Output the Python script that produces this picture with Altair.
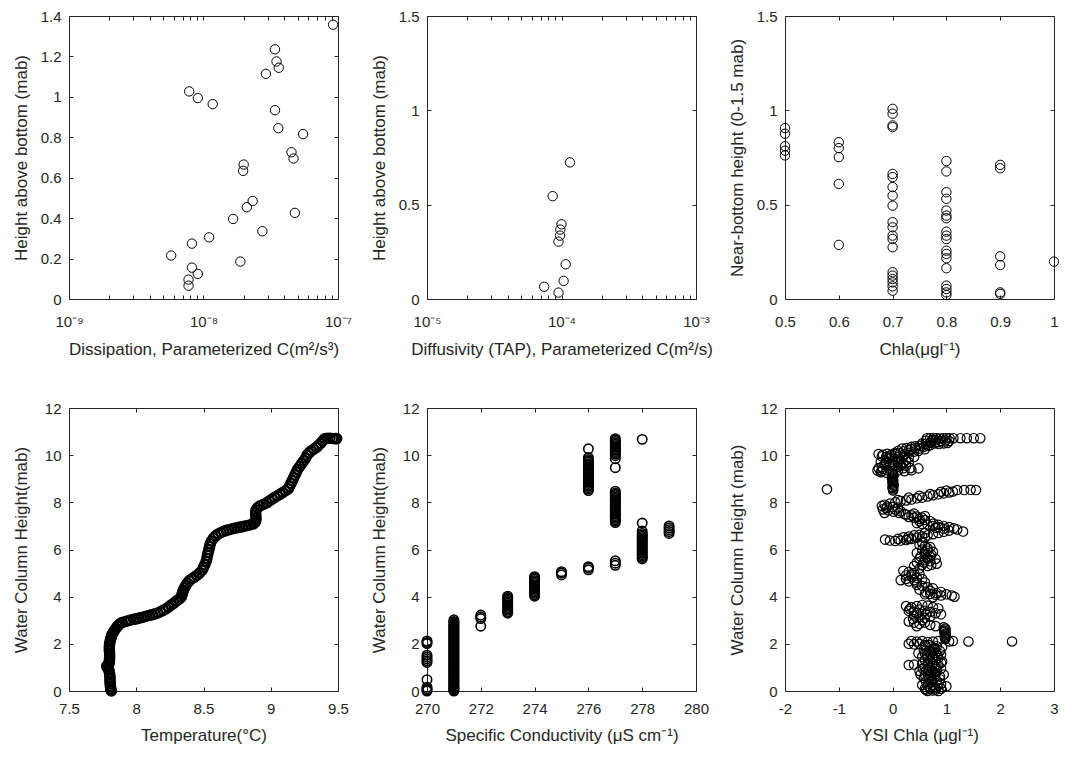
import altair as alt
import pandas as pd

FONT = "Liberation Sans"
INK = "#262626"
TICK = 4
W, H = 269, 283
SIZE = 88

# ---------------- Panel 1: dissipation ----------------
dissipation = [9.2e-8, 3.4e-8, 3.49e-8, 3.63e-8, 2.91e-8, 7.83e-9, 9.08e-9, 1.17e-8,
               3.4e-8, 3.6e-8, 5.5e-8, 4.51e-8, 4.67e-8, 1.99e-8, 1.97e-8, 2.32e-8,
               2.1e-8, 4.78e-8, 1.66e-8, 2.74e-8, 1.1e-8, 8.2e-9, 5.75e-9, 1.88e-8,
               8.2e-9, 9.08e-9, 7.74e-9, 7.74e-9]
dissipation_h = [1.357, 1.235, 1.175, 1.144, 1.114, 1.027, 0.994, 0.964,
                 0.934, 0.845, 0.816, 0.726, 0.695, 0.665, 0.634, 0.485,
                 0.454, 0.426, 0.396, 0.335, 0.305, 0.274, 0.215, 0.185,
                 0.155, 0.124, 0.096, 0.066]

# ---------------- Panel 2: diffusivity ----------------
diffusivity = [1.156e-4, 8.6e-5, 1.0e-4, 9.8e-5, 9.75e-5, 9.5e-5, 1.074e-4, 1.037e-4, 7.43e-5, 9.5e-5]
diffusivity_h = [0.724, 0.545, 0.396, 0.368, 0.336, 0.304, 0.184, 0.096, 0.065, 0.034]

# ---------------- Panel 3: Chla near bottom ----------------
chla_levels = [0.5, 0.6, 0.7, 0.8, 0.9, 1.0]
chla_heights = [
    [0.906, 0.876, 0.810, 0.786, 0.761],
    [0.831, 0.800, 0.752, 0.610, 0.287],
    [1.008, 0.982, 0.920, 0.911, 0.663, 0.646, 0.593, 0.548, 0.495, 0.407, 0.380,
     0.336, 0.318, 0.274, 0.142, 0.124, 0.106, 0.088, 0.067, 0.044],
    [0.731, 0.676, 0.566, 0.531, 0.469, 0.442, 0.428, 0.357, 0.336, 0.318, 0.256,
     0.239, 0.216, 0.163, 0.071, 0.053, 0.035, 0.021],
    [0.711, 0.693, 0.226, 0.180, 0.035, 0.027],
    [0.198],
]

# ---------------- Panel 4: temperature profile ----------------
temp_c = [7.815, 7.812, 7.810, 7.808, 7.806, 7.805, 7.805, 7.804, 7.803, 7.800, 7.795, 7.785, 7.780,
          7.790, 7.800, 7.800, 7.802, 7.802, 7.802, 7.800, 7.800, 7.800, 7.802, 7.805, 7.810,
          7.815, 7.820, 7.830, 7.840, 7.850, 7.860, 7.870, 7.880, 7.895,
          7.92, 7.94, 7.96, 7.98, 8.00, 8.02, 8.04, 8.06, 8.08, 8.10, 8.12, 8.14, 8.16, 8.18, 8.20, 8.22,
          8.24, 8.26, 8.28, 8.30, 8.32, 8.335, 8.34, 8.345, 8.35, 8.36,
          8.37, 8.38, 8.395, 8.41, 8.43, 8.45, 8.47, 8.49, 8.50, 8.51,
          8.52, 8.525, 8.53, 8.535, 8.54, 8.545, 8.55, 8.56, 8.575, 8.59,
          8.61, 8.63, 8.65, 8.67, 8.69, 8.71, 8.73, 8.75, 8.77, 8.79,
          8.81, 8.83, 8.85, 8.87, 8.885, 8.89, 8.89, 8.888, 8.888, 8.89,
          8.90, 8.92, 8.945, 8.97, 8.99, 9.01, 9.03, 9.05, 9.07, 9.09,
          9.11, 9.13, 9.14, 9.15, 9.16, 9.17, 9.18, 9.19, 9.20, 9.215,
          9.23, 9.245, 9.26, 9.27, 9.285, 9.30, 9.32, 9.34, 9.355, 9.37,
          9.385, 9.40, 9.42, 9.44, 9.46, 9.48, 9.49]
temp_h = [0.00, 0.05, 0.10, 0.20, 0.30, 0.40, 0.50, 0.60, 0.70, 0.80, 0.90, 1.00, 1.05,
          1.10, 1.20, 1.30, 1.40, 1.50, 1.60, 1.70, 1.80, 1.90, 2.00, 2.10, 2.20,
          2.30, 2.40, 2.50, 2.58, 2.66, 2.74, 2.80, 2.86, 2.90,
          2.95, 2.98, 3.01, 3.04, 3.06, 3.09, 3.12, 3.15, 3.18, 3.21, 3.24, 3.27, 3.31, 3.36, 3.42, 3.48,
          3.56, 3.65, 3.73, 3.82, 3.90, 3.98, 4.08, 4.18, 4.28, 4.38,
          4.48, 4.58, 4.68, 4.75, 4.82, 4.90, 5.00, 5.12, 5.24, 5.36,
          5.50, 5.62, 5.76, 5.88, 6.00, 6.12, 6.24, 6.36, 6.48, 6.58,
          6.66, 6.72, 6.77, 6.81, 6.84, 6.87, 6.90, 6.92, 6.95, 6.97,
          7.00, 7.02, 7.05, 7.09, 7.16, 7.26, 7.36, 7.46, 7.56, 7.66,
          7.76, 7.85, 7.91, 7.98, 8.06, 8.14, 8.21, 8.28, 8.35, 8.42,
          8.49, 8.57, 8.68, 8.80, 8.92, 9.04, 9.16, 9.28, 9.40, 9.52,
          9.64, 9.76, 9.88, 10.00, 10.10, 10.18, 10.26, 10.33, 10.42, 10.50,
          10.60, 10.69, 10.72, 10.72, 10.71, 10.70, 10.70]

# ---------------- Panel 5: specific conductivity ----------------
cond_levels = [270, 271, 272, 273, 274, 275, 276, 277, 278, 279]
cond_heights = [
    [2.12, 2.06, 2.01, 1.52, 1.44, 1.36, 1.28, 1.21, 0.48, 0.16, 0.10, 0.04, 0.0],
    [0.0, 0.04, 0.08, 0.12, 0.16, 0.2, 0.25, 0.3, 0.35, 0.4, 0.45, 0.5, 0.55, 0.6, 0.65, 0.7,
     0.75, 0.8, 0.85, 0.9, 0.95, 1.0, 1.05, 1.1, 1.15, 1.2, 1.25, 1.3, 1.35, 1.4, 1.45, 1.5,
     1.55, 1.6, 1.65, 1.7, 1.75, 1.8, 1.85, 1.9, 1.95, 2.0, 2.05, 2.1, 2.15, 2.2, 2.25, 2.3,
     2.35, 2.4, 2.45, 2.5, 2.55, 2.6, 2.65, 2.7, 2.75, 2.8, 2.85, 2.9, 2.95, 3.02],
    [2.75, 3.07, 3.14, 3.22],
    [3.3, 3.36, 3.42, 3.48, 3.54, 3.6, 3.66, 3.72, 3.78, 3.84, 3.9, 3.96, 4.02],
    [4.02, 4.08, 4.14, 4.2, 4.26, 4.32, 4.38, 4.44, 4.5, 4.56, 4.62, 4.68, 4.74, 4.8, 4.85],
    [4.92, 5.0, 5.06],
    [5.14, 5.22, 5.27, 8.5, 8.56, 8.62, 8.68, 8.74, 8.8, 8.86, 8.92, 8.98, 9.04, 9.1, 9.16,
     9.22, 9.28, 9.34, 9.4, 9.46, 9.52, 9.58, 9.64, 9.7, 9.76, 9.82, 9.9, 10.27],
    [5.33, 5.42, 5.52, 7.14, 7.2, 7.26, 7.32, 7.38, 7.44, 7.5, 7.56, 7.62, 7.68, 7.74, 7.8,
     7.86, 7.92, 7.98, 8.04, 8.1, 8.16, 8.22, 8.28, 8.34, 8.4, 8.47, 9.47, 9.85, 9.98, 10.04,
     10.1, 10.16, 10.22, 10.28, 10.34, 10.4, 10.46, 10.52, 10.58, 10.64, 10.7],
    [5.6, 5.66, 5.72, 5.78, 5.84, 5.9, 5.96, 6.02, 6.08, 6.14, 6.2, 6.26, 6.32, 6.38, 6.44,
     6.5, 6.56, 6.62, 6.68, 6.78, 7.12, 10.67],
    [6.68, 6.76, 6.84, 6.92, 7.0],
]

# ---------------- Panel 6: YSI Chla (chla, height) ----------------
ysi_upper = [
    (0.64, 10.72), (0.70, 10.72), (0.76, 10.73), (0.82, 10.72), (0.88, 10.71), (0.94, 10.72),
    (1.00, 10.72), (1.06, 10.72), (1.13, 10.72), (1.26, 10.72), (1.38, 10.72), (1.51, 10.72), (1.63, 10.72),
    (0.62, 10.62), (0.72, 10.60), (0.80, 10.63), (0.90, 10.60), (0.98, 10.62), (1.05, 10.60),
    (0.75, 10.65), (0.85, 10.55), (0.70, 10.42),
    (0.55, 10.50), (0.62, 10.48), (0.70, 10.52), (0.78, 10.50), (0.86, 10.47), (0.95, 10.50), (1.02, 10.52),
    (0.42, 10.38), (0.50, 10.40), (0.58, 10.36), (0.66, 10.40), (0.35, 10.35),
    (0.18, 10.28), (0.26, 10.30), (0.34, 10.26), (0.42, 10.30), (0.50, 10.28), (0.60, 10.25),
    (0.10, 10.18), (0.20, 10.16), (0.30, 10.20), (0.40, 10.15), (0.48, 10.18), (0.05, 10.10), (0.30, 10.10),
    (-0.26, 10.05), (-0.18, 10.02), (-0.10, 10.06), (-0.02, 10.03), (0.06, 10.05), (0.14, 10.08), (0.22, 10.05),
    (-0.20, 9.95), (-0.12, 9.92), (-0.04, 9.96), (0.10, 9.93), (0.20, 9.95), (0.30, 9.90), (0.40, 9.92),
    (-0.10, 9.85), (0.00, 9.82), (0.12, 9.85), (0.25, 9.80), (0.12, 9.78), (-0.06, 9.90),
    (-0.22, 9.70), (-0.12, 9.68), (0.00, 9.72), (0.10, 9.70), (0.20, 9.66), (0.30, 9.70),
    (-0.15, 9.60), (0.00, 9.62), (0.15, 9.62), (-0.20, 9.50), (0.10, 9.50), (0.25, 9.55),
    (-0.05, 9.55), (0.05, 9.58), (0.15, 9.55),
    (-0.26, 9.45), (-0.18, 9.42), (0.20, 9.45), (0.33, 9.45), (0.48, 9.44),
    (-0.28, 9.35), (-0.20, 9.32), (-0.10, 9.36), (0.00, 9.34), (0.10, 9.35), (0.22, 9.32), (0.35, 9.36),
    (-0.22, 9.28), (-0.12, 9.26), (0.00, 9.25),
    (0.00, 9.20), (0.02, 9.15), (0.01, 9.10), (-0.01, 9.05), (-0.01, 9.00), (0.01, 8.95), (0.01, 8.90),
    (0.00, 8.85), (0.00, 8.80), (0.02, 8.75), (0.02, 8.70), (0.00, 8.65), (0.00, 8.60), (0.01, 8.55), (0.01, 8.50),
    (-1.22, 8.55),
    (1.20, 8.52), (1.33, 8.52), (1.45, 8.53), (1.55, 8.52),
]
ysi_middle = [
    (-0.15, 7.90), (-0.05, 7.95), (0.05, 8.00), (0.15, 8.05), (0.25, 8.08), (0.35, 8.12), (0.45, 8.17),
    (0.55, 8.20), (0.65, 8.25), (0.75, 8.30), (0.85, 8.34), (0.95, 8.38), (1.05, 8.42), (1.12, 8.46),
    (0.10, 8.10), (0.30, 8.20), (0.50, 8.28), (0.70, 8.35), (0.90, 8.45), (1.00, 8.50),
    (-0.20, 7.85), (-0.10, 7.82), (0.00, 7.80), (0.10, 7.78), (-0.18, 7.70), (-0.08, 7.66), (0.02, 7.60),
    (-0.15, 7.55), (0.12, 7.55), (0.22, 7.50), (0.05, 7.70), (-0.12, 7.75), (0.15, 7.62),
    (0.25, 7.48), (0.35, 7.45), (0.45, 7.40), (0.55, 7.35), (0.60, 7.25), (0.70, 7.20), (0.76, 7.10),
    (0.85, 7.05), (0.95, 7.00), (1.05, 6.95), (1.14, 6.90), (1.20, 6.85), (1.31, 6.76),
    (0.45, 7.12), (0.55, 7.08), (0.65, 7.05), (0.75, 7.00), (0.85, 6.95), (0.95, 6.88),
    (0.40, 7.52), (0.50, 7.20), (0.80, 6.92),
    (0.30, 7.38), (0.40, 7.35), (0.50, 7.30), (0.60, 7.42),
    (-0.14, 6.42), (-0.05, 6.38), (0.05, 6.36), (0.15, 6.38), (0.25, 6.40), (0.35, 6.45), (0.45, 6.50),
    (0.55, 6.55), (0.65, 6.60), (0.75, 6.65), (0.85, 6.70), (0.95, 6.75), (1.05, 6.80),
    (0.20, 6.52), (0.30, 6.55), (0.40, 6.60), (0.50, 6.62), (0.60, 6.50),
    (0.10, 6.45), (0.30, 6.45), (0.60, 6.70), (0.55, 6.30), (0.65, 6.05),
    (0.50, 6.20), (0.60, 6.15), (0.70, 6.10), (0.55, 6.00), (0.65, 5.95), (0.75, 5.90), (0.45, 5.85),
    (0.60, 5.80), (0.70, 5.70), (0.80, 5.60), (0.50, 5.60), (0.60, 5.55), (0.70, 5.50), (0.82, 5.40),
    (0.45, 5.45), (0.55, 5.35), (0.65, 5.30), (0.40, 5.30),
    (0.60, 5.88), (0.72, 5.78), (0.52, 5.70), (0.65, 5.62), (0.58, 5.45), (0.72, 5.35), (0.50, 5.20),
]
ysi_lower = [
    (0.20, 5.10), (0.30, 5.05), (0.40, 5.00), (0.50, 4.95), (0.25, 4.90), (0.35, 4.85), (0.45, 4.80),
    (0.55, 4.75), (0.15, 4.70), (0.30, 4.65), (0.45, 4.60), (0.60, 4.60),
    (0.35, 4.95), (0.25, 4.75), (0.40, 4.70),
    (0.45, 4.50), (0.55, 4.45), (0.65, 4.40), (0.75, 4.35), (0.50, 4.30), (0.70, 4.25), (0.90, 4.20),
    (0.60, 4.10), (0.70, 4.12), (0.80, 4.08), (0.90, 4.05), (1.00, 4.10), (1.10, 4.05), (1.15, 4.00), (0.75, 3.98),
    (0.62, 4.18), (0.82, 4.15),
    (0.25, 3.60), (0.35, 3.55), (0.45, 3.60), (0.55, 3.65), (0.65, 3.62), (0.75, 3.55), (0.85, 3.50),
    (0.30, 3.40), (0.40, 3.35), (0.50, 3.45), (0.60, 3.40), (0.70, 3.35), (0.80, 3.30), (0.90, 3.25),
    (0.40, 3.20), (0.50, 3.15), (0.60, 3.10), (0.70, 3.15),
    (0.32, 3.48), (0.45, 3.30), (0.62, 3.25), (0.55, 3.00), (0.38, 3.05),
    (0.30, 2.95), (0.40, 2.90), (0.50, 2.85), (0.60, 2.90), (0.70, 2.80), (0.80, 2.75), (0.45, 2.75),
    (0.95, 2.70), (0.98, 2.65), (0.98, 2.60), (0.96, 2.55), (0.96, 2.50), (0.99, 2.45), (0.99, 2.40),
    (0.97, 2.35), (0.97, 2.30), (0.98, 2.25), (0.98, 2.20),
    (0.35, 2.12), (0.45, 2.10), (0.55, 2.12), (0.65, 2.08), (0.75, 2.10), (0.85, 2.12), (1.05, 2.10),
    (1.12, 2.12), (1.41, 2.10), (2.22, 2.10),
    (0.30, 2.00), (0.40, 1.98), (0.50, 2.00), (0.60, 1.95), (0.68, 1.95),
    (0.62, 1.90), (0.72, 1.88), (0.82, 1.90), (0.92, 1.85), (0.78, 1.82),
    (0.58, 1.75), (0.68, 1.72), (0.78, 1.76), (0.88, 1.70), (0.74, 1.66),
    (0.48, 1.60), (0.60, 1.60), (0.70, 1.58), (0.80, 1.62), (0.90, 1.55),
    (0.55, 1.45), (0.65, 1.42), (0.75, 1.46), (0.85, 1.40), (0.64, 1.52), (0.84, 1.50),
    (0.60, 1.30), (0.70, 1.28), (0.80, 1.32), (0.92, 1.25), (0.74, 1.36), (0.66, 1.20), (0.90, 1.20),
    (0.30, 1.10), (0.40, 1.12), (0.55, 1.15), (0.65, 1.12), (0.75, 1.15), (0.85, 1.10), (0.78, 1.06),
    (0.60, 1.00), (0.70, 0.98), (0.80, 1.00), (0.90, 0.95), (0.56, 0.95),
    (0.50, 0.85), (0.62, 0.85), (0.72, 0.82), (0.82, 0.86), (0.68, 0.90), (0.78, 0.78),
    (0.60, 0.70), (0.70, 0.68), (0.80, 0.72), (0.95, 0.70), (0.52, 0.70), (0.66, 0.62), (0.88, 0.62),
    (0.58, 0.55), (0.68, 0.52), (0.78, 0.56), (0.88, 0.50), (0.74, 0.46),
    (0.62, 0.40), (0.72, 0.38), (0.82, 0.42), (0.66, 0.32), (0.90, 0.30),
    (0.55, 0.25), (0.65, 0.22), (0.75, 0.26), (0.85, 0.24), (1.00, 0.20), (0.78, 0.18), (0.70, 0.15),
    (0.60, 0.10), (0.70, 0.08), (0.80, 0.12), (0.90, 0.10), (0.62, 0.05), (0.80, 0.05),
    (0.65, 0.00), (0.75, 0.02), (0.85, 0.00),
]

# ---------------- tick values ----------------
def log_ticks(e0, e1):
    vals = []
    for e in range(e0, e1):
        for m in range(1, 10):
            vals.append(float(f"{m}e{e}"))
    vals.append(float(f"1e{e1}"))
    return vals

diss_ticks = log_ticks(-9, -7)
diff_ticks = log_ticks(-5, -3)
lab_diss = "datum.value == 1e-9 ? '10⁻⁹' : datum.value == 1e-8 ? '10⁻⁸' : datum.value == 1e-7 ? '10⁻⁷' : ''"
lab_diff = "datum.value == 1e-5 ? '10⁻⁵' : datum.value == 1e-4 ? '10⁻⁴' : datum.value == 1e-3 ? '10⁻³' : ''"
lab_num = "'' + datum.value"


def axis(orient, values, label_expr=None, title=None, labels=True, lpad=13, tpad=11):
    kw = dict(orient=orient, values=values, domain=False, grid=False, ticks=True,
              tickSize=TICK, tickColor=INK, tickWidth=1, offset=-TICK,
              labels=labels, labelFont=FONT, labelFontSize=15, labelColor=INK,
              labelOverlap=False, labelFlush=False,
              titleFont=FONT, titleFontSize=17, titleColor=INK, titleFontWeight="normal",
              title=title)
    if labels:
        kw["labelExpr"] = label_expr
    else:
        kw.update(minExtent=0, maxExtent=0)
    if orient == "left":
        kw.update(labelPadding=8, minExtent=33, maxExtent=33, titlePadding=10)
    if orient == "bottom":
        kw.update(labelPadding=lpad, titlePadding=tpad)
    return alt.Axis(**kw)


def panel(df, xscale, yscale, xvals, yvals, xlab, xtitle, ytitle, sw=1.0, lpad=13, tpad=11):
    base = alt.Chart(df).mark_point(shape="circle", filled=False, color="black",
                                    size=SIZE, strokeWidth=sw, opacity=1).encode(
        x=alt.X("x:Q", scale=xscale, axis=axis("bottom", xvals, xlab, xtitle, lpad=lpad, tpad=tpad)),
        y=alt.Y("y:Q", scale=yscale, axis=axis("left", yvals, lab_num, ytitle)),
    )
    ghost = alt.Chart(df).mark_point(opacity=0).encode(
        x=alt.X("x:Q", scale=xscale, axis=axis("top", xvals, labels=False)),
        y=alt.Y("y:Q", scale=yscale, axis=axis("right", yvals, labels=False)),
    )
    return alt.layer(base, ghost).resolve_axis(x="independent", y="independent").properties(width=W, height=H)


def frame(xs, ys):
    return pd.DataFrame({"x": list(xs), "y": list(ys)})


df1 = frame(dissipation, dissipation_h)
df2 = frame(diffusivity, diffusivity_h)
c3x, c3y = [], []
for lv, hs in zip(chla_levels, chla_heights):
    c3x += [lv] * len(hs)
    c3y += hs
df3 = frame(c3x, c3y)
n4 = min(len(temp_c), len(temp_h))
df4 = frame(temp_c[:n4], temp_h[:n4])
c5x, c5y = [], []
for lv, hs in zip(cond_levels, cond_heights):
    c5x += [lv] * len(hs)
    c5y += hs
df5 = frame(c5x, c5y)
ysi = ysi_upper + ysi_middle + ysi_lower
df6 = frame([p[0] for p in ysi], [p[1] for p in ysi])

y_small = [0, 0.2, 0.4, 0.6, 0.8, 1, 1.2, 1.4]
y_15 = [0, 0.5, 1, 1.5]
y_12 = [0, 2, 4, 6, 8, 10, 12]

TOP = dict(lpad=15, tpad=12)
BOT = dict(lpad=10, tpad=11)

p1 = panel(df1, alt.Scale(type="log", domain=[1e-9, 1e-7], nice=False),
           alt.Scale(domain=[0, 1.4], nice=False, zero=False), diss_ticks, y_small, lab_diss,
           "Dissipation, Parameterized C(m²/s³)", "Height above bottom (mab)", **TOP)
p2 = panel(df2, alt.Scale(type="log", domain=[1e-5, 1e-3], nice=False),
           alt.Scale(domain=[0, 1.5], nice=False, zero=False), diff_ticks, y_15, lab_diff,
           "Diffusivity (TAP), Parameterized C(m²/s)", "Height above bottom (mab)", **TOP)
p3 = panel(df3, alt.Scale(domain=[0.5, 1], nice=False, zero=False),
           alt.Scale(domain=[0, 1.5], nice=False, zero=False), [0.5, 0.6, 0.7, 0.8, 0.9, 1], y_15, lab_num,
           "Chla(μgl⁻¹)", "Near-bottom height (0-1.5 mab)", **TOP)
p4 = panel(df4, alt.Scale(domain=[7.5, 9.5], nice=False, zero=False),
           alt.Scale(domain=[0, 12], nice=False, zero=False), [7.5, 8, 8.5, 9, 9.5], y_12, lab_num,
           "Temperature(°C)", "Water Column Height(mab)", sw=2.2, **BOT)
p5 = panel(df5, alt.Scale(domain=[270, 280], nice=False, zero=False),
           alt.Scale(domain=[0, 12], nice=False, zero=False), [270, 272, 274, 276, 278, 280], y_12, lab_num,
           "Specific Conductivity (μS cm⁻¹)", "Water Column Height(mab)", sw=1.6, **BOT)
p6 = panel(df6, alt.Scale(domain=[-2, 3], nice=False, zero=False),
           alt.Scale(domain=[0, 12], nice=False, zero=False), [-2, -1, 0, 1, 2, 3], y_12, lab_num,
           "YSI Chla (μgl⁻¹)", "Water Column Height (mab)", sw=1.2, **BOT)

chart = alt.concat(p1, p2, p3, p4, p5, p6, columns=3, bounds="flush",
                   spacing={"row": 109, "column": 89}).properties(
    padding={"left": 3, "top": 0, "right": -3, "bottom": 0},
    background="white",
).configure_view(stroke=INK, strokeWidth=1)

chart.save("out.html", embed_options={"renderer": "svg", "actions": False})
